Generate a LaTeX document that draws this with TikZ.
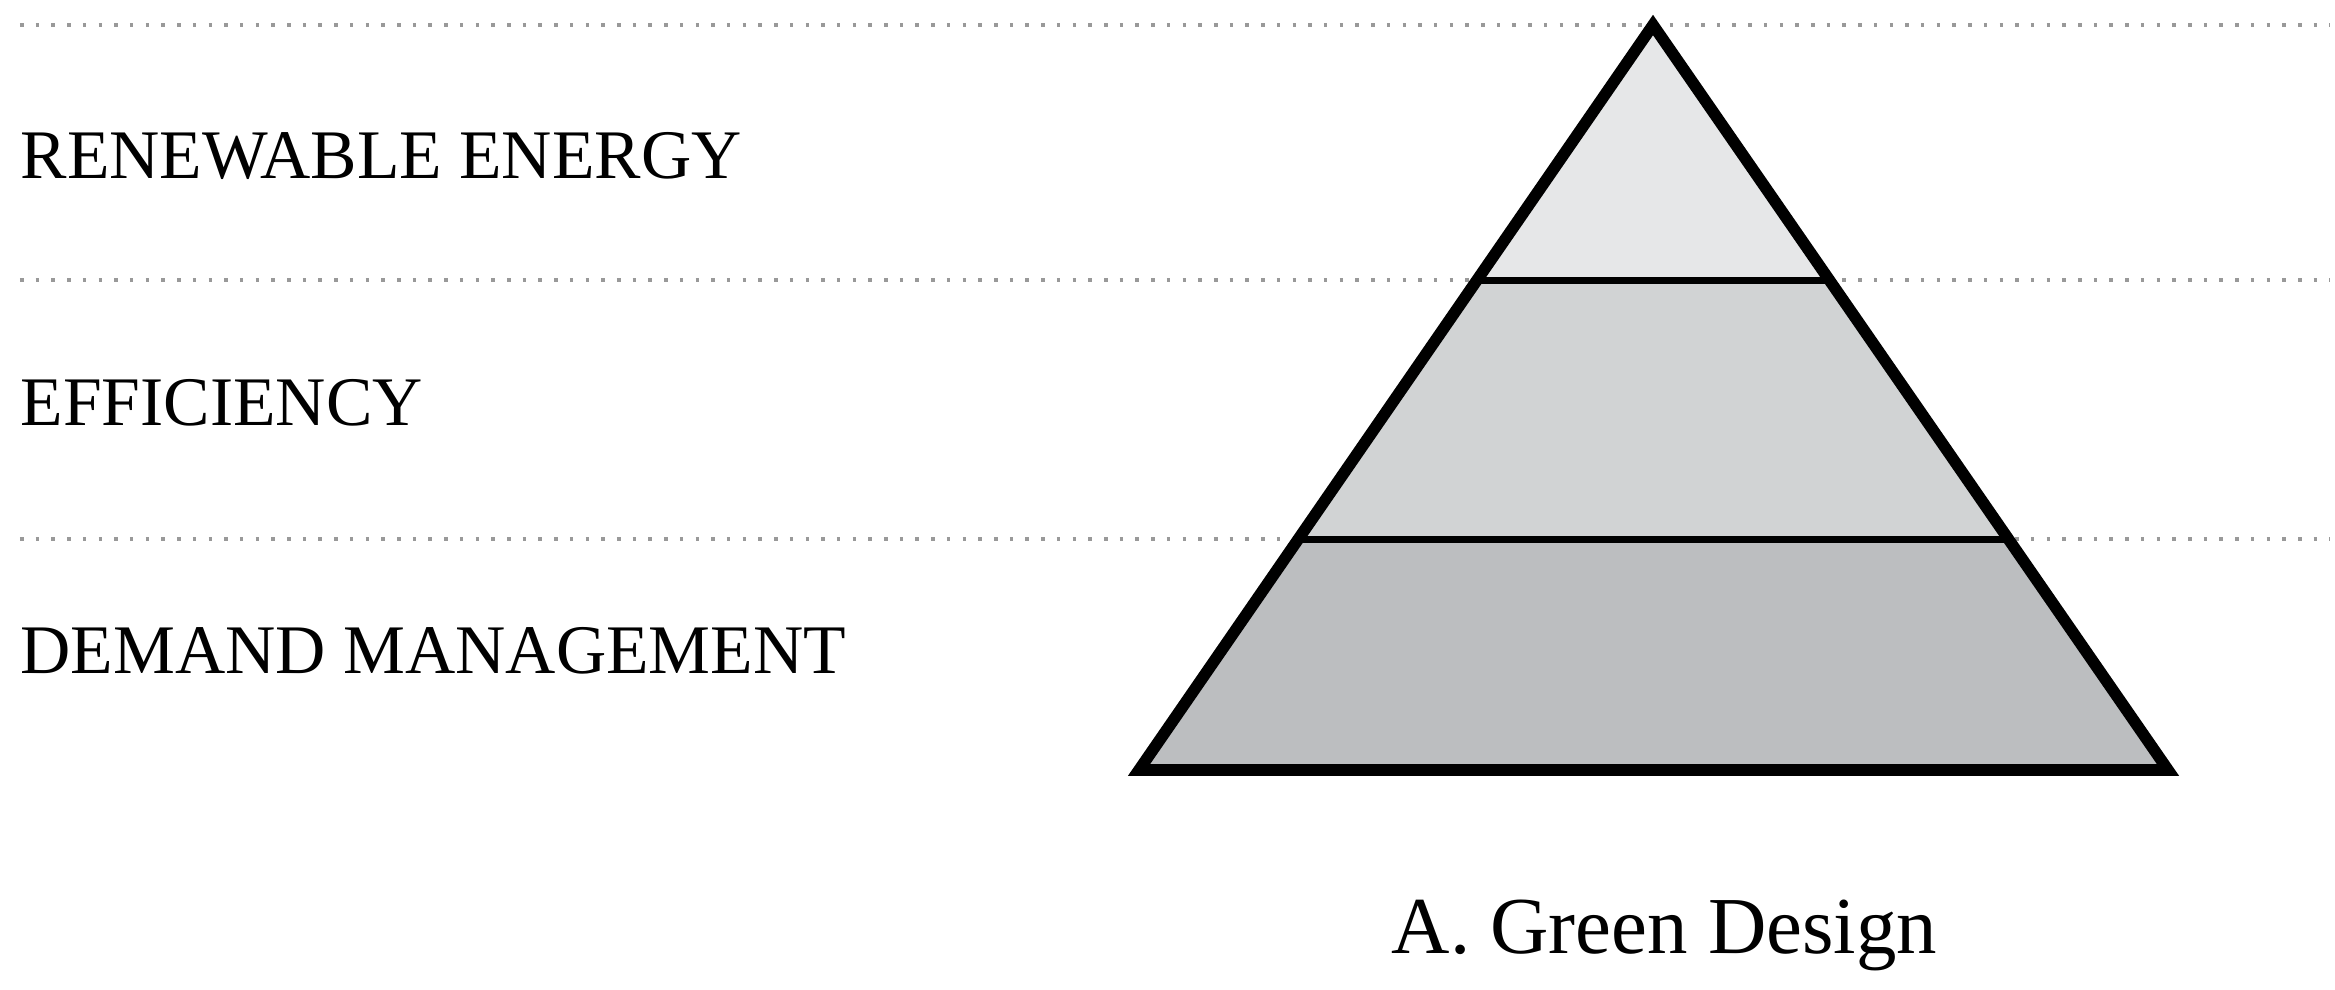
\documentclass[tikz,border=0pt]{standalone}
\usepackage{fontspec}
\setmainfont{Liberation Serif}
\usetikzlibrary{positioning, calc}

\definecolor{topTier}{HTML}{E6E7E8}
\definecolor{midTier}{HTML}{D1D3D4}
\definecolor{baseTier}{HTML}{BCBEC0}

\begin{document}
\begin{tikzpicture}[
    levelline/.style={draw=gray!80, line width=1pt, dash pattern=on 1pt off 3.47pt},
    tierline/.style={draw=black, line width=2pt},
    outline/.style={draw=black, line width=3.3pt, line join=miter},
    levelname/.style={anchor=base west, inner sep=0pt, font=\fontsize{19.8}{23}\selectfont},
    caption/.style={anchor=base, inner sep=0pt, font=\fontsize{23}{27}\selectfont}
]
\useasboundingbox (0,0) rectangle (23.35,-9.9);

% Pyramid corners
\coordinate (Apex) at (16.53,-0.25);
\coordinate (BaseL) at (11.39,-7.70);
\coordinate (BaseR) at (21.68,-7.70);

% Tier borders
\coordinate (UpperL) at ($(Apex)!0.3423!(BaseL)$);
\coordinate (UpperR) at ($(Apex)!0.3423!(BaseR)$);
\coordinate (LowerL) at ($(Apex)!0.690!(BaseL)$);
\coordinate (LowerR) at ($(Apex)!0.690!(BaseR)$);

% Level lines
\coordinate (TopStart) at (0.2,-0.25);
\coordinate (TopEnd) at (23.3,-0.25);
\coordinate (UpperStart) at (0.2,-2.80);
\coordinate (UpperEnd) at (23.3,-2.80);
\coordinate (LowerStart) at (0.2,-5.39);
\coordinate (LowerEnd) at (23.3,-5.39);

\draw [levelline] (TopStart) -- (TopEnd);
\draw [levelline] (UpperStart) -- (UpperEnd);
\draw [levelline] (LowerStart) -- (LowerEnd);

% Tiers
\fill [topTier] (Apex) -- (UpperR) -- (UpperL) -- cycle;
\fill [midTier] (UpperL) -- (UpperR) -- (LowerR) -- (LowerL) -- cycle;
\fill [baseTier] (LowerL) -- (LowerR) -- (BaseR) -- (BaseL) -- cycle;

\draw [tierline] (UpperL) -- (UpperR);
\draw [tierline] (LowerL) -- (LowerR);
\draw [outline] (Apex) -- (BaseR) -- (BaseL) -- cycle;

% Names
\node (Renewable) [levelname] at (0.2,-1.78) {RENEWABLE ENERGY};
\node (Efficiency) [levelname] at (0.2,-4.25) {EFFICIENCY};
\node (Demand) [levelname] at (0.2,-6.73) {DEMAND MANAGEMENT};

\coordinate (BaseMid) at ($(BaseL)!0.5!(BaseR)$);
\node (Caption) [caption] at ($(BaseMid)+(0.11,-1.83)$) {A. Green Design};

\end{tikzpicture}
\end{document}
